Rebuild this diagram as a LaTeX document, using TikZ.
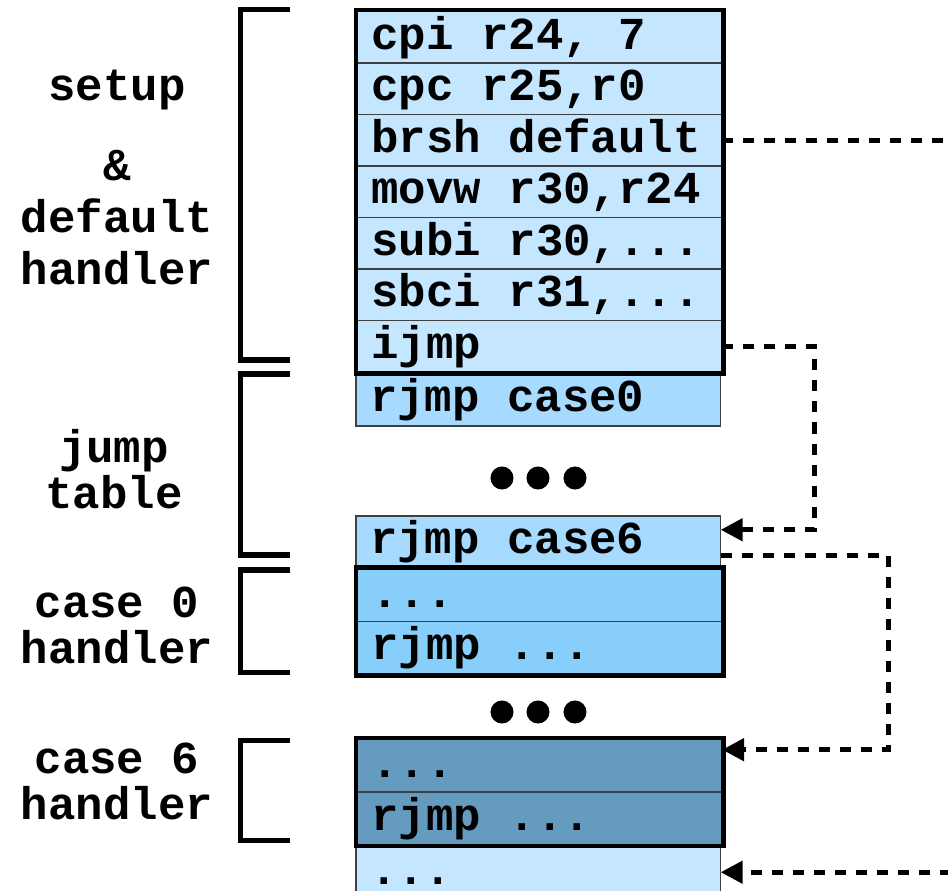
\documentclass[tikz,border=0pt]{standalone}
\usepackage{fontspec}
\setmonofont{Liberation Mono}
\usepackage{tikz}
\usetikzlibrary{matrix,calc,arrows.meta}
\definecolor{topfill}{HTML}{C4E6FF}
\definecolor{jumpfill}{HTML}{A6DBFF}
\definecolor{casezero}{HTML}{87CEFA}
\definecolor{casesix}{HTML}{669BC0}
\newcommand{\asm}{\ttfamily\bfseries\fontsize{13}{13.1}\selectfont}

\begin{document}
\begin{tikzpicture}[x=0.01cm,y=-0.01cm,
    cell/.style={draw=black!75,line width=0.015cm,outer sep=0pt,inner xsep=0.14cm,inner ysep=0pt,
        text width=3.365cm,align=flush left,minimum height=0.515cm,text height=0.32cm,text depth=0.08cm,font=\asm},
    block/.style={matrix of nodes,inner sep=0pt,row sep=-0.015cm,anchor=north west},
    thickframe/.style={line width=0.045cm},
    bracket/.style={line width=0.05cm},
    partname/.style={font=\asm,align=center},
    jump/.style={line width=0.05cm,dash pattern=on 0.11cm off 0.1cm},
    tiphead/.style={-{Triangle[length=0.22cm,width=0.22cm]}}]

    \useasboundingbox (0,0) rectangle (948,891);

    % code blocks
    \matrix (setup) [block,nodes={cell,fill=topfill}] at (356,10)
        {
        cpi r24, 7 \\
        cpc r25,r0 \\
        brsh default \\
        movw r30,r24 \\
        subi r30,... \\
        sbci r31,... \\
        ijmp \\
        };

    \node[cell,fill=jumpfill,anchor=north west,minimum height=0.525cm] (jt0) at (setup.south west) {rjmp case0};
    \node[cell,fill=jumpfill,anchor=north west] (jt6) at (356,516) {rjmp case6};

    \matrix (czero) [block,nodes={cell,fill=casezero,minimum height=0.525cm}] at (jt6.south west)
        {
        ... \\
        rjmp ... \\
        };

    \matrix (csix) [block,nodes={cell,fill=casesix,minimum height=0.525cm}] at (356,738)
        {
        ... \\
        rjmp ... \\
        };

    \node[cell,fill=topfill,anchor=north west,minimum height=0.525cm] (tail) at (csix.south west) {...};

    % thick frames on top of the cells
    \draw[thickframe] (setup.north west) rectangle (setup.south east);
    \draw[thickframe] (czero.north west) rectangle (czero.south east);
    \draw[thickframe] (csix.north west) rectangle (csix.south east);

    % gaps
    \foreach \y in {478,712}
        \foreach \x in {502,538,575}
            \fill (\x,\y) circle (0.115cm);

    % brackets and their names
    \draw[bracket] (290,10) -| (240,360) -- (290,360);
    \draw[bracket] (290,374) -| (240,555) -- (290,555);
    \draw[bracket] (290,570) -| (240,672) -- (290,672);
    \draw[bracket] (290,740) -| (240,840) -- (290,840);

    \node[partname] (lsetup) at (117,90) {setup};
    \node[partname,font={\ttfamily\bfseries\fontsize{13}{14.8}\selectfont}] (ldefault) at (117,218) {\&\\default\\handler};
    \node[partname] (ljump) at (114,469) {jump\\table};
    \node[partname] (lczero) at (117,625) {case 0\\handler};
    \node[partname] (lcsix) at (117,781) {case 6\\handler};

    % control flow
    \coordinate (brshout) at ($(setup-3-1.east)+(230,0)$);
    \coordinate (tailin) at ($(tail.east)+(230,0)$);
    \draw[jump] (setup-3-1.east) -- (brshout);
    \draw[jump,tiphead] (setup-7-1.east) -- ++(92,0) |- ($(jt6.east)+(0,-12)$);
    \draw[jump,tiphead] ($(jt6.east)+(0,14)$) -- ++(168,0) |- ($(csix-1-1.east)+(0,-16)$);
    \draw[jump,tiphead] (tailin) -- (tail.east);

\end{tikzpicture}
\end{document}
